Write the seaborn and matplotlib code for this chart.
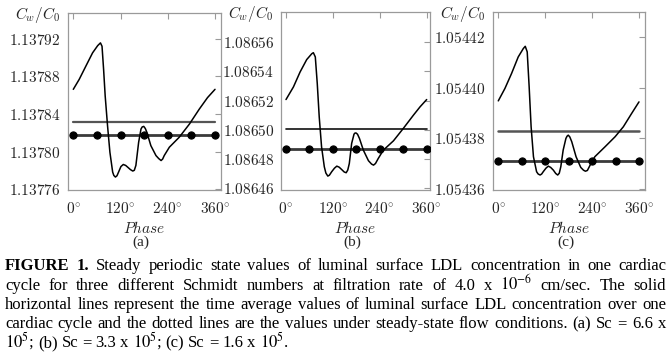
import matplotlib
matplotlib.use("Agg")
import matplotlib.pyplot as plt
import seaborn as sns

# ---------------- data ----------------
phase_a = [0, 15, 32, 49, 62, 69, 73, 77, 81, 87, 93, 100, 103, 107, 111, 115, 121, 127,
           133, 138, 145, 151, 155, 159, 166, 172, 175, 179, 183, 187, 197, 210, 217, 223,
           227, 231, 244, 269, 295, 320, 341, 360]
conc_a = [1.1378663, 1.1378769, 1.1378911, 1.1379052, 1.1379129, 1.1379158, 1.1379122,
          1.1378875, 1.1378593, 1.1378275, 1.1377993, 1.1377781, 1.1377745, 1.1377728,
          1.1377742, 1.1377781, 1.1377840, 1.1377862, 1.1377852, 1.1377834, 1.1377808,
          1.1377792, 1.1377800, 1.1377852, 1.1378099, 1.1378240, 1.1378262, 1.1378268,
          1.1378245, 1.1378204, 1.1378063, 1.1377957, 1.1377925, 1.1377904, 1.1377920,
          1.1377957, 1.1378046, 1.1378152, 1.1378293, 1.1378452, 1.1378575, 1.1378663]
avg_a = 1.1378318
steady_a = 1.1378176

phase_b = [0, 19, 36, 53, 66, 70, 75, 80, 85, 91, 98, 102, 107, 111, 117, 124, 130, 136,
           142, 149, 154, 158, 162, 168, 174, 176, 179, 183, 188, 198, 211, 219, 224, 229,
           236, 249, 275, 300, 326, 343, 360]
conc_b = [1.0865207, 1.0865293, 1.0865395, 1.0865480, 1.0865520, 1.0865527, 1.0865498,
          1.0865316, 1.0865089, 1.0864884, 1.0864748, 1.0864705, 1.0864684, 1.0864690,
          1.0864714, 1.0864738, 1.0864752, 1.0864745, 1.0864730, 1.0864712, 1.0864707,
          1.0864725, 1.0864770, 1.0864907, 1.0864970, 1.0864977, 1.0864979, 1.0864970,
          1.0864941, 1.0864861, 1.0864789, 1.0864766, 1.0864759, 1.0864770, 1.0864804,
          1.0864861, 1.0864925, 1.0865009, 1.0865100, 1.0865157, 1.0865207]
avg_b = 1.0865009
steady_b = 1.0864866

phase_c = [0, 17, 34, 51, 64, 69, 74, 79, 84, 90, 98, 102, 107, 111, 115, 122, 128, 134,
           141, 147, 152, 156, 160, 166, 173, 176, 179, 183, 188, 199, 211, 218, 223, 228,
           235, 247, 273, 299, 320, 341, 360]
conc_c = [1.0543948, 1.0543997, 1.0544056, 1.0544121, 1.0544154, 1.0544163, 1.0544141,
          1.0544003, 1.0543846, 1.0543728, 1.0543669, 1.0543660, 1.0543656, 1.0543660,
          1.0543669, 1.0543683, 1.0543691, 1.0543686, 1.0543675, 1.0543662, 1.0543656,
          1.0543663, 1.0543689, 1.0543754, 1.0543800, 1.0543809, 1.0543813, 1.0543806,
          1.0543787, 1.0543728, 1.0543686, 1.0543675, 1.0543671, 1.0543674, 1.0543695,
          1.0543728, 1.0543767, 1.0543807, 1.0543846, 1.0543898, 1.0543944]
avg_c = 1.0543830
steady_c = 1.0543711

dot_phase = [0, 60, 120, 180, 240, 300, 360]
span_phase = [0, 360]

xticks = [0, 120, 240, 360]
xtick_labels = [r"$0^{\!\circ}$", r"$120^{\!\circ}$", r"$240^{\!\circ}$", r"$360^{\!\circ}$"]

yticks_a = [1.13776, 1.13780, 1.13784, 1.13788, 1.13792]
yticks_b = [1.08646, 1.08648, 1.08650, 1.08652, 1.08654, 1.08656]
yticks_c = [1.05436, 1.05438, 1.05440, 1.05442]
ytick_labels_a = ["1.13776", "1.13780", "1.13784", "1.13788", "1.13792"]
ytick_labels_b = ["1.08646", "1.08648", "1.08650", "1.08652", "1.08654", "1.08656"]
ytick_labels_c = ["1.05436", "1.05438", "1.05440", "1.05442"]

panel_tags = ["(a)", "(b)", "(c)"]
ylabel = r"$C_w/C_0$"
xlabel = r"$Phase$"

caption_lines = [
    [("FIGURE", "bold"), ("1.", "bold"), ("Steady", "normal"), ("periodic", "normal"),
     ("state", "normal"), ("values", "normal"), ("of", "normal"), ("luminal", "normal"),
     ("surface", "normal"), ("LDL", "normal"), ("concentration", "normal"), ("in", "normal"),
     ("one", "normal"), ("cardiac", "normal")],
    "cycle for three different Schmidt numbers at filtration rate of 4.0 x $10^{-6}$ cm/sec. The solid",
    "horizontal lines represent the time average values of luminal surface LDL concentration over one",
    "cardiac cycle and the dotted lines are the values under steady-state flow conditions. (a) Sc = 6.6 x",
    "$10^5$; (b) Sc = 3.3 x $10^5$; (c) Sc = 1.6 x $10^5$.",
]

# ---------------- style ----------------
sns.set_style("white")
plt.rcParams["font.family"] = ["Liberation Serif", "DejaVu Serif"]
plt.rcParams["mathtext.fontset"] = "cm"

W, H = 672, 358
fig = plt.figure(figsize=(W / 100, H / 100), dpi=100)
fig.patch.set_facecolor("white")

# axes boxes in pixels: (left, right, top, bottom)
boxes = [(67.7, 221.0, 12.5, 190.0), (281.0, 430.0, 12.0, 190.0), (492.7, 645.0, 12.0, 190.0)]
xlims = [(-14.2, 375.2), (-12.8, 368.5), (-14.3, 375.4)]
ylims = [(1.137759, 1.1379482), (1.0864589, 1.0865805), (1.0543597, 1.0544298)]

panels = [
    (phase_a, conc_a, avg_a, steady_a, yticks_a, ytick_labels_a, "#555555", 1.6),
    (phase_b, conc_b, avg_b, steady_b, yticks_b, ytick_labels_b, "#111111", 1.2),
    (phase_c, conc_c, avg_c, steady_c, yticks_c, ytick_labels_c, "#555555", 1.8),
]

spine_col = "#9a9a9a"
for i, (ph, cv, avg, st, yt, ytl, avg_col, avg_lw) in enumerate(panels):
    l, r, t, b = boxes[i]
    ax = fig.add_axes([l / W, 1 - b / H, (r - l) / W, (b - t) / H])
    ax.set_facecolor("white")

    sns.lineplot(x=span_phase, y=[avg, avg], ax=ax, color=avg_col, lw=avg_lw,
                 estimator=None)
    sns.lineplot(x=dot_phase, y=[st] * len(dot_phase), ax=ax, color="#3a3a3a", lw=2.0,
                 marker="o", markersize=5.2, markerfacecolor="black",
                 markeredgecolor="black", estimator=None, zorder=3)
    sns.lineplot(x=ph, y=cv, ax=ax, color="black", lw=1.1, estimator=None, zorder=4,
                 solid_joinstyle="round")

    ax.set_xlim(*xlims[i])
    ax.set_ylim(*ylims[i])
    ax.set_xticks(xticks)
    ax.set_xticklabels(xtick_labels)
    ax.set_yticks(yt)
    ax.set_yticklabels(["$" + s + "$" for s in ytl])
    ax.tick_params(direction="in", length=4, width=0.8, color=spine_col,
                   top=True, right=True, labelsize=11, pad=5)
    ax.tick_params(axis="x", pad=8)
    for s in ax.spines.values():
        s.set_color(spine_col)
        s.set_linewidth(0.9)
    ax.set_ylabel("")
    ax.set_xlabel(xlabel, fontsize=11, labelpad=3)
    ax.annotate(ylabel, xy=(0, 1), xycoords="axes fraction", xytext=(-22, -1.5),
                textcoords="offset points", ha="center", va="center", fontsize=11)
    ax.text(0.48, (b - 242) / (b - t), panel_tags[i], transform=ax.transAxes,
            ha="center", va="center", fontsize=11)

# ---------------- justified caption ----------------
fig.canvas.draw()
renderer = fig.canvas.get_renderer()
x_left, x_right = 5.0, 666.0
fs = 12.0
space_px = 4.0
for li, line in enumerate(caption_lines):
    if isinstance(line, str):
        words = [(w, "normal") for w in line.split(" ")]
    else:
        words = line
    yb = 1 - (270.5 + li * 19.2) / H
    texts = [fig.text(0, yb, w, fontsize=fs, fontweight=wt, va="baseline", ha="left",
                      math_fontfamily="stix", color="black") for w, wt in words]
    widths = [tx.get_window_extent(renderer).width for tx in texts]
    justify = li < len(caption_lines) - 1
    if justify and len(texts) > 1:
        gap = (x_right - x_left - sum(widths)) / (len(texts) - 1)
    else:
        gap = space_px
    x = x_left
    for tx, w in zip(texts, widths):
        tx.set_x(x / W)
        x += w + gap

fig.savefig("out.png", dpi=100, facecolor="white")
